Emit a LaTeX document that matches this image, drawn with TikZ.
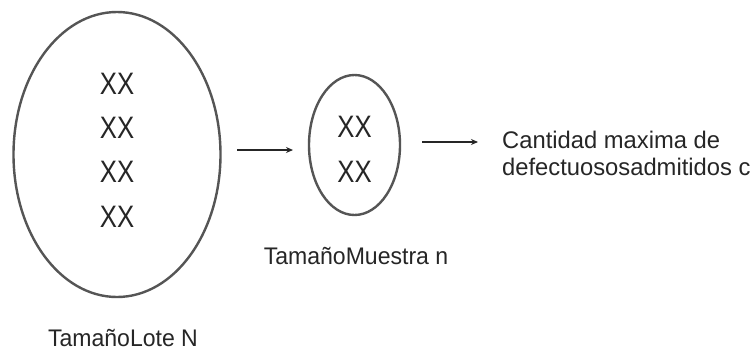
\documentclass[tikz,border=0pt]{standalone}
\usepackage{graphicx}
\usepackage{fontspec}
\setmainfont{Liberation Sans}
\usetikzlibrary{shapes.geometric,arrows.meta}
\definecolor{ink}{HTML}{262626}
\definecolor{rim}{HTML}{555555}
\newcommand{\narrowtxt}[2]{\scalebox{#1}[1]{#2}}
\tikzset{
  setbox/.style={ellipse, draw=rim, line width=2.4pt, inner sep=0pt},
  xxtext/.style={font=\fontsize{31}{33}\selectfont, text=ink, inner sep=0pt},
  lbl/.style={font=\fontsize{24}{26}\selectfont, text=ink, inner sep=0pt},
  restext/.style={font=\fontsize{24}{27}\selectfont, text=ink, inner sep=0pt},
  flow/.style={draw=ink, line width=1.3pt, -{Stealth[length=7pt,width=6pt]}}
}
\begin{document}
\begin{tikzpicture}[x=1pt,y=-1pt]
\useasboundingbox (0,0) rectangle (754,354);
\fill[white] (0,0) rectangle (754,354);
% lot
\node[setbox, minimum width=207pt, minimum height=285pt] (lote) at (117,154.5) {};
\node[xxtext] (x1) at (117,84) {\narrowtxt{0.83}{XX}};
\node[xxtext] (x2) at (117,128) {\narrowtxt{0.83}{XX}};
\node[xxtext] (x3) at (117,172) {\narrowtxt{0.83}{XX}};
\node[xxtext] (x4) at (117,217) {\narrowtxt{0.83}{XX}};
\node[lbl, anchor=base] (lotelbl) at (123,346) {\narrowtxt{0.96}{TamañoLote N}};
% sample
\node[setbox, minimum width=91pt, minimum height=140pt] (muestra) at (354.5,145) {};
\node[xxtext] (y1) at (354.5,127) {\narrowtxt{0.83}{XX}};
\node[xxtext] (y2) at (354.5,172) {\narrowtxt{0.83}{XX}};
\node[lbl, anchor=base] (muestralbl) at (356,264) {\narrowtxt{0.96}{TamañoMuestra n}};
% result text (base anchor = baseline of the last line)
\node[restext, anchor=base west, align=left] (res) at (502,175) {\narrowtxt{0.99}{Cantidad maxima de}\\\narrowtxt{0.99}{defectuososadmitidos c}};
% arrows
\coordinate (a1s) at (237,150);
\coordinate (a1e) at (293,150);
\coordinate (a2s) at (422,142);
\coordinate (a2e) at (478,142);
\draw[flow] (a1s) -- (a1e);
\draw[flow] (a2s) -- (a2e);
\end{tikzpicture}
\end{document}
